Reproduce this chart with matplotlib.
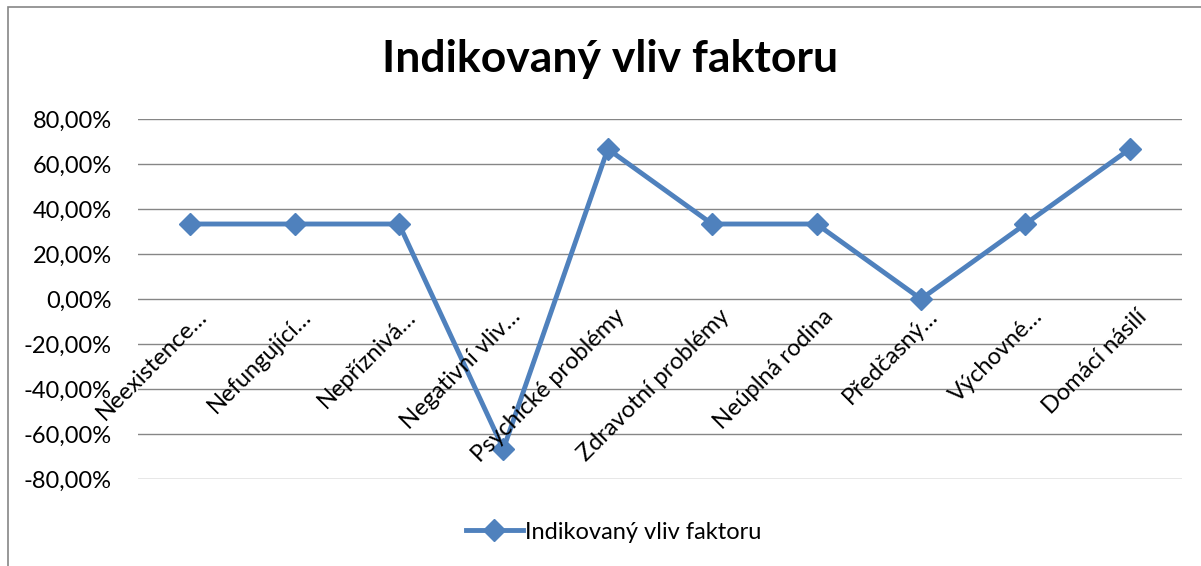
import matplotlib.pyplot as plt
from matplotlib.patches import Rectangle
from matplotlib.ticker import FuncFormatter

plt.rcParams['font.family'] = ['Lato', 'DejaVu Sans']

categories = ['Neexistence…', 'Nefungující…', 'Nepříznivá…', 'Negativní vliv…',
              'Psychické problémy', 'Zdravotní problémy', 'Neúplná rodina',
              'Předčasný…', 'Výchovné…', 'Domácí násilí']
values = [33.33, 33.33, 33.33, -66.67, 66.67, 33.33, 33.33, 0.0, 33.33, 66.67]
series_name = 'Indikovaný vliv faktoru'
color = '#4F81BD'

fig = plt.figure(figsize=(12.01, 5.66), dpi=100)
ax = fig.add_axes([138 / 1201, 87 / 566, 1044 / 1201, 360 / 566])

x = list(range(len(categories)))
ax.plot(x, [v / 100 for v in values], color=color, linewidth=3.5, marker='D',
        markersize=11, label=series_name)

ax.set_xlim(-0.5, len(categories) - 0.5)
ax.set_ylim(-0.8, 0.8)
ax.set_yticks([i / 10 for i in range(-8, 9, 2)])
ax.yaxis.set_major_formatter(FuncFormatter(lambda v, p: f'{v * 100:.2f}%'.replace('.', ',')))
ax.tick_params(axis='y', length=0, labelsize=17, pad=19)
ax.set_xticks([])
ax.grid(axis='y', color='#868686', linewidth=1)
ax.set_axisbelow(True)
for s in ax.spines.values():
    s.set_visible(False)

# category labels sit below the zero line, rotated like Excel does it
for xi, lab in zip(x, categories):
    ax.text(xi + 0.06, -0.03, lab, rotation=45, rotation_mode='anchor',
            ha='right', va='top', fontsize=17)

fig.text(0.508, 0.895, series_name, ha='center', va='center', fontsize=32,
         fontweight='bold')

fig.legend(loc='center', bbox_to_anchor=(0.511, 0.06), frameon=False, fontsize=17,
           handlelength=2.4, handletextpad=0.1)

# chart frame
fig.patches.append(Rectangle((8 / 1201, -0.1), 1.2, (566 - 7) / 566 + 0.1,
                             transform=fig.transFigure, fill=False,
                             edgecolor='#868686', linewidth=1.2))

fig.savefig('out.png', dpi=100)
